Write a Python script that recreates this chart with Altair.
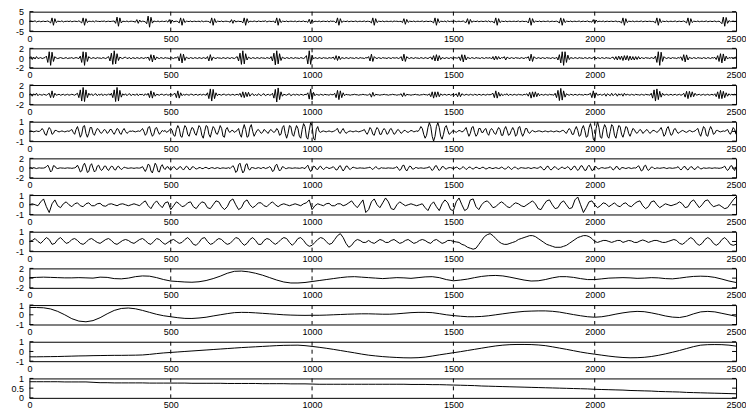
import altair as alt
import pandas as pd

X_MAX = 2500
X_TICKS = [0, 500, 1000, 1500, 2000, 2500]
GRID_X = [500, 1000, 1500, 2000]
STEP = [5, 5, 5, 5, 5, 10, 10, 25, 25, 25, 25]
Y_DOMAIN = [(-5, 5), (-2, 2), (-2, 2), (-1, 1), (-2, 2), (-1, 1), (-1, 1), (-2, 2), (-1, 1), (-1, 1), (0, 1)]
Y_TICKS = [[-5, 0, 5], [-2, 0, 2], [-2, 0, 2], [-1, 0, 1], [-2, 0, 2], [-1, 0, 1], [-1, 0, 1],
           [-2, 0, 2], [-1, 0, 1], [-1, 0, 1], [0, 0.5, 1]]

P1 = [
    0, 0.2, -0.1, 0, 0.3, -0.3, 0, 0.1, -0.2, 0, 0.1, -0.1, 0, 0.2, -0.2, -0.8, 1.8, -2.0, 1.4, -0.6,
    0.1, 0, -0.1, 0.3, -0.3, 0, 0, 0.1, -0.1, 0.2, -0.2, 0, 0.1, 0, -0.1, 0.3, -0.2, -0.8, 1.8, -2.0,
    1.4, -0.6, 0.1, 0, -0.1, 0.2, -0.3, 0.3, 0, 0, -0.1, 0.1, 0, 0.2, -0.2, 0, 0.1, -0.1, 0, 0.1,
    0.2, -1.0, 2.2, -2.5, 1.8, -0.8, 0.1, 0, -0.1, 0.2, -0.2, 0, 0.1, 0, -0.1, -0.4, 0.9, -1.0, 0.7, -0.3,
    0.1, 0, -0.2, -1.2, 2.7, -3.0, 2.1, -0.9, 0.2, 0, -0.1, 0.2, -0.2, 0, 0.1, -0.1, 0, 0.2, -0.4, 0.9,
    -1.0, 0.7, -0.3, 0, 0.1, -0.1, -0.8, 1.8, -2.0, 1.4, -0.6, 0.1, 0, -0.1, 0.2, -0.2, 0, 0.1, -0.1, 0,
    0.1, -0.2, 0.3, -0.2, 0, 0.1, 0, -0.1, -0.8, 1.8, -2.0, 1.4, -0.6, 0.1, 0, -0.1, 0.2, -0.2, 0, 0.1,
    0, -0.1, -0.4, 0.9, -1.0, 0.7, -0.3, 0, 0.1, -0.1, 0, -0.8, 1.8, -2.0, 1.4, -0.6, 0.1, 0, -0.1, 0.2,
    0, -0.2, 0.2, 0, -0.1, 0.1, 0, 0.3, -0.3, 0, 0.1, -0.1, 0, 0.1, -0.8, 1.8, -2.0, 1.4, -0.6, 0.1,
    0, -0.1, 0.2, -0.2, 0, 0.1, 0, -0.1, 0.2, -0.2, 0, 0.1, -0.1, 0, 0.2, -0.2, 0, -0.5, 1.1, -1.2,
    0.8, -0.4, 0.1, 0, -0.1, 0.2, -0.2, 0, 0.1, 0, -0.1, 0.2, -0.3, 0.2, 0, 0.1, -0.1, -0.8, 1.8, -2.0,
    1.4, -0.6, 0.1, 0, -0.1, 0.2, -0.2, 0, 0.1, -0.1, 0, 0.2, -0.2, 0, 0.1, -0.1, 0, 0.2, -0.2, 0.1,
    0, -0.1, -0.8, 1.8, -2.0, 1.4, -0.6, 0.1, 0, -0.1, 0.2, -0.2, 0, 0.1, -0.1, 0, 0.1, -0.2, 0.2, 0,
    0.1, -0.1, 0, 0, -0.6, 1.4, -1.5, 1.0, -0.5, 0.1, 0, -0.1, 0.2, -0.2, 0, 0.1, -0.1, 0, 0.2, -0.2,
    0, 0.1, -0.1, 0, 0.1, -0.2, -0.8, 1.8, -2.0, 1.4, -0.6, 0.1, 0, -0.1, 0.2, -0.3, 0.3, -0.1, 0, 0.1,
    -0.1, 0.2, -0.2, 0, 0.1, -0.1, 0, 0.2, -0.3, -0.6, 1.4, -1.5, 1.0, -0.5, 0.1, 0, -0.1, 0.2, -0.2, 0,
    0.1, -0.1, 0, 0.2, -0.2, 0.3, -0.3, 0, -0.2, -0.8, 1.8, -2.0, 1.4, -0.6, 0.1, 0, -0.1, 0.2, -0.2, 0,
    0.1, -0.1, 0, 0.1, -0.1, 0, 0.2, -0.2, 0, 0.1, -0.1, 0, 0, -0.8, 1.8, -2.0, 1.4, -0.6, 0.1, 0,
    -0.1, 0.2, -0.2, 0, 0.1, -0.1, 0, 0.2, -0.2, 0, 0.1, -0.1, 0, 0.1, -0.2, -0.8, 1.8, -2.0, 1.4, -0.6,
    0.1, 0, -0.1, 0.2, -0.2, 0, 0.1, -0.1, 0, 0.2, -0.2, 0, 0.1, -0.1, 0, 0.2, -0.2, -0.1, -0.4, 0.9,
    -1.0, 0.7, -0.3, 0.1, 0, -0.1, 0.2, -0.2, 0, 0.1, -0.1, 0, 0.1, -0.1, 0, 0.2, -0.2, 0, -0.2, -0.8,
    1.8, -2.0, 1.4, -0.6, 0.1, 0, -0.1, 0.2, -0.2, 0, 0.1, -0.1, 0, 0.2, -0.2, 0, 0.1, -0.1, 0, 0.1,
    -0.1, 0, -0.2, -0.8, 1.8, -2.0, 1.4, -0.6, 0.1, 0, -0.1, 0.2, -0.2, 0, 0.1, -0.1, 0, 0.2, -0.2, 0,
    0.1, -0.1, 0, 0.2, -0.2, -0.8, 1.8, -2.0, 1.4, -0.6, 0.1, 0, -0.1, 0.2, -0.2, 0, 0.1, -0.1, 0, 0.2,
    -0.2, 0, 0.1, -0.1, 0, 0.2, -0.2, 0, 0.1, -0.4, -1.2, 2.2, -2.5, 2.0, -1.0, 0.4, -0.1, 0, 0.1, -0.1,
    0,
]

P2 = [
    0, 0.3, -0.3, 0.2, -0.2, 0.3, -0.1, 0, 0.1, -0.1, 0, 0.1, 0.4, -0.9, 1.3, -1.5, 1.2, -0.7, 0.3, 0,
    -0.1, 0, 0.1, 0, -0.1, 0, 0.1, -0.1, 0, 0, 0.1, -0.1, 0, 0.1, 0, -0.1, 0.4, -0.9, 1.3, -1.5,
    1.2, -0.7, 0.3, 0, -0.1, 0.1, 0, -0.1, 0.1, 0, 0, -0.1, 0.1, 0, -0.1, 0.1, 0.3, -0.6, 1.0, -1.3,
    1.5, -1.2, 0.9, -0.5, 0.2, 0, -0.1, 0.1, 0.2, -0.1, 0, 0.1, -0.2, 0.1, 0, -0.1, 0.1, 0, -0.1, 0.1,
    0, -0.1, 0.1, 0, 0.2, -0.5, 0.7, -0.8, 0.6, -0.4, 0.2, 0, -0.1, 0.1, 0, -0.1, 0.1, 0, 0, -0.1,
    0.1, 0, -0.1, 0.1, 0, 0.3, -0.6, 0.9, -1.0, 0.8, -0.5, 0.2, 0, -0.1, 0.1, 0, -0.1, 0.1, 0, -0.1,
    0.1, 0, -0.1, 0.1, 0, -0.1, 0.3, -0.6, 0.7, -0.5, 0.2, 0, -0.1, 0.1, 0, 0, -0.1, 0.1, 0, -0.1,
    0.1, 0, -0.1, 0.1, 0, -0.1, 0.1, 0.3, -0.6, 1.0, -1.3, 1.5, -1.2, 0.9, -0.4, 0.2, 0, -0.1, 0.1, 0,
    -0.1, 0.1, 0, -0.1, 0.1, 0, 0, -0.1, 0.1, 0, -0.1, 0.3, -0.6, 1.0, -1.4, 1.5, -1.2, 0.9, -0.5, 0.2,
    0, -0.1, 0.1, 0, -0.1, 0.1, 0, -0.1, 0.1, 0, 0, -0.1, 0.1, 0, -0.1, 0.1, 0.5, -1.2, 1.5, -1.3,
    0.6, -0.2, 0.1, 0, -0.1, 0.1, 0, -0.1, 0.1, 0, 0, -0.1, 0.1, 0, 0, 0.2, -0.3, 0.5, -0.5, 0.4,
    -0.3, 0.1, 0, -0.1, 0.1, 0, -0.1, 0.1, 0, 0, -0.1, 0.1, 0, -0.1, 0.1, 0, 0, -0.1, 0.1, 0,
    0.3, -0.6, 0.8, -0.7, 0.3, 0, -0.1, 0.1, 0, -0.1, 0.1, 0, 0, -0.1, 0.1, 0, -0.1, 0.1, 0, 0,
    0.1, -0.1, 0, 0.3, -0.6, 0.8, -0.7, 0.3, 0, -0.1, 0.1, 0, -0.1, 0.1, 0, 0, -0.1, 0.1, 0, -0.1,
    0.1, 0, -0.1, 0.1, 0.2, -0.3, 0.5, -0.6, 0.7, -0.6, 0.5, -0.3, 0.1, 0, -0.1, 0.1, 0, -0.1, 0.1, 0,
    -0.1, 0.1, 0, 0, 0.25, -0.5, 0.7, -0.8, 0.65, -0.4, 0.15, 0, -0.1, 0.1, 0, -0.1, 0.1, 0, 0, -0.1,
    0.1, 0, -0.1, 0.1, 0, 0, 0.1, -0.2, 0.3, -0.4, 0.4, -0.3, 0.3, -0.2, 0.1, 0, 0.3, -0.4, 0.2, 0,
    -0.1, 0.1, 0, -0.1, 0.1, 0, 0, -0.1, 0.1, 0, -0.1, 0.1, 0, 0.3, -0.6, 0.8, -0.7, 0.3, 0, -0.1,
    0.1, 0, -0.1, 0.1, 0, -0.1, 0.1, 0, 0, -0.1, 0.1, 0, -0.1, 0.2, -0.4, 0.7, -1.0, 1.3, -1.5, 1.3,
    -0.9, 0.6, -0.3, 0.1, 0, -0.1, 0.1, 0, -0.1, 0.1, 0, 0, -0.1, 0.1, 0, -0.1, 0.1, 0, -0.1, 0.1,
    0.2, -0.2, 0.1, 0, -0.1, 0.1, 0, -0.1, 0.1, 0, 0, -0.1, 0.1, 0.2, -0.3, 0.3, -0.4, 0.4, -0.3, 0.4,
    -0.5, 0.5, -0.4, 0.5, -0.5, 0.4, -0.4, 0.3, -0.4, 0.3, -0.3, 0.3, -0.2, 0.1, 0, -0.1, 0.1, 0, 0, -0.1,
    0.1, 0, -0.1, 0.4, -0.9, 1.3, -1.5, 1.2, -0.7, 0.3, 0, -0.1, 0.1, 0, -0.1, 0.1, 0, 0, -0.1, 0.1,
    0, 0.25, -0.5, 0.7, -0.8, 0.65, -0.4, 0.15, 0, -0.1, 0.1, 0, -0.1, 0.1, 0, 0, -0.1, 0.1, 0, -0.1,
    0.1, 0, -0.1, 0.1, 0, 0.15, -0.3, 0.5, -0.7, 0.9, -1.0, 0.85, -0.6, 0.4, -0.2, 0.1, 0, 0.1, -0.1, 0.1,
    0.2,
]

P3 = [
    0, 0.2, -0.3, 0.2, -0.1, 0.3, -0.2, 0.1, 0, -0.1, 0.1, 0, -0.1, 0.1, 0.3, -0.6, 0.8, -0.6, 0.3, -0.1,
    0, 0.1, -0.1, 0, 0.1, -0.1, 0, 0.1, -0.1, 0, 0.1, 0, -0.1, 0.1, 0.3, -0.6, 1.0, -1.3, 1.5, -1.4,
    1.0, -0.6, 0.3, -0.1, 0.2, -0.2, 0.1, 0.2, -0.2, 0.1, -0.1, 0.2, -0.2, 0.1, 0, -0.1, 0.2, -0.1, 0.3, -0.6,
    1.0, -1.4, 1.5, -1.3, 0.9, -0.5, 0.2, -0.1, 0.2, -0.2, 0.1, 0.2, -0.2, 0.1, 0, -0.1, 0.2, -0.2, 0.1, 0,
    0.1, -0.2, 0.2, -0.1, 0.3, -0.6, 0.8, -0.7, 0.5, -0.3, 0.1, 0, -0.1, 0.1, 0.1, -0.1, 0, 0.1, -0.1, 0,
    0.1, -0.1, 0.1, 0.3, -0.6, 0.8, -0.7, 0.4, -0.2, 0.1, -0.1, 0.1, 0, -0.1, 0.1, 0.1, -0.1, 0, 0.1, -0.1,
    0, 0.1, -0.1, 0.1, 0, -0.1, 0.4, -0.8, 1.2, -1.3, 1.1, -0.8, 0.4, -0.2, 0.1, 0, -0.1, 0.1, 0.1, -0.1,
    0, 0.1, -0.1, 0, 0.1, -0.1, 0, 0.1, -0.1, 0.3, -0.5, 0.6, -0.6, 0.5, -0.4, 0.5, -0.3, 0.1, 0.2, -0.2,
    0.1, -0.2, 0.2, 0, -0.2, 0.1, 0.2, -0.2, 0, 0.1, -0.1, 0, 0.3, -0.7, 1.1, -1.5, 1.4, -1.0, 0.6, -0.3,
    0.1, 0, -0.1, 0.1, 0.2, -0.2, 0, 0.1, -0.1, 0.1, 0, -0.1, 0.1, 0, -0.1, 0.1, 0, 0.4, -0.9, 1.2,
    -1.0, 0.5, -0.2, 0.1, 0, -0.1, 0.1, 0, -0.1, 0.1, 0, 0, -0.1, 0.1, 0, 0, 0.3, -0.6, 0.9, -1.0,
    0.8, -0.6, 0.4, -0.2, 0.1, 0, 0, -0.1, 0, 0, 0.1, 0, 0, -0.1, 0, 0, 0.1, 0, 0, -0.1,
    0, 0.2, -0.5, 0.5, -0.3, 0.1, 0, 0, -0.1, 0, 0, 0.1, 0, 0, -0.1, 0, 0, 0.1, 0, 0,
    -0.1, 0, 0, 0.2, -0.4, 0.4, -0.3, 0.1, 0, 0, -0.1, 0, 0, 0.1, 0, 0, -0.1, 0, 0, 0.1,
    0, 0, -0.1, 0.2, -0.4, 0.6, -0.7, 0.6, -0.5, 0.6, -0.4, 0.2, -0.1, 0, 0.1, -0.1, 0, 0.1, -0.1, 0,
    0.1, -0.1, 0.2, -0.4, 0.5, -0.4, 0.2, 0, -0.1, 0.1, 0, -0.1, 0.1, 0, -0.1, 0.1, 0, -0.1, 0.1, 0,
    -0.1, 0.1, 0, -0.1, 0.1, 0, 0, 0.1, 0.3, -0.6, 0.8, -0.7, 0.5, -0.3, 0.2, -0.2, 0.1, 0, 0.2, -0.2,
    0.1, 0, -0.1, 0.1, 0, -0.1, 0.1, 0, 0, -0.1, 0.1, 0, 0.2, -0.3, 0.5, -0.7, 0.6, -0.5, 0.6, -0.4,
    0.3, -0.2, 0.1, 0, -0.1, 0.1, 0, -0.1, 0.1, 0, 0, -0.1, 0.3, -0.6, 0.9, -1.2, 1.3, -1.1, 0.8, -0.5,
    0.2, 0, -0.1, 0.1, 0, -0.1, 0.1, 0, -0.1, 0.1, 0, 0, -0.1, 0.1, 0, 0, 0.1, 0.3, -0.6, 0.8,
    -0.7, 0.4, -0.1, 0, 0.1, -0.1, 0, 0.2, -0.3, 0.2, 0, -0.2, 0.3, -0.2, 0.1, 0.2, -0.3, 0.2, -0.1, 0.2,
    -0.3, 0.3, -0.1, 0.1, 0, -0.1, 0.1, 0, -0.1, 0.1, 0, 0, -0.1, 0.1, 0, -0.1, 0.1, 0, 0, -0.1,
    0.3, -0.7, 1.0, -1.3, 1.2, -1.0, 0.7, -0.5, 0.3, -0.1, 0, 0.1, -0.1, 0, 0.1, -0.1, 0, 0.1, -0.1, 0,
    0.1, -0.1, 0, 0.3, -0.5, 0.7, -0.8, 0.7, -0.5, 0.6, -0.4, 0.3, -0.1, 0, 0.1, -0.1, 0, 0.1, -0.1, 0,
    0.1, -0.1, 0, 0.1, -0.1, 0.2, -0.4, 0.6, -0.8, 0.9, -0.8, 0.7, -0.6, 0.4, -0.3, 0.2, -0.1, 0.1, 0, 0.1,
    0,
]

P4 = [
    0, 0.05, 0, -0.05, 0, 0.05, 0, 0,
    0.1, 0.3, 0.1, -0.3, -0.4, 0.1, 0.4, 0.2, -0.3, -0.2, 0.1, 0.1, 0,
    -0.05, 0, 0.05, 0, -0.05, 0, 0.05, 0,
    0.1, 0.2, -0.1, -0.3, 0.2, 0.5, 0, -0.6, -0.3, 0.5, 0.6, -0.2, -0.6, -0.2, 0.4, 0.4, -0.2, -0.4, 0, 0.3, 0.2, -0.1,
    -0.2, 0, 0.2, 0.1, -0.2, -0.1, 0.2, 0.2, -0.1, -0.3, 0, 0.3, 0.2, -0.2, -0.3, 0.1, 0.3, 0, -0.2, -0.1, 0.05,
    0, 0.05, 0, -0.05, 0, 0.05, 0,
    0.1, 0.3, 0, -0.4, -0.2, 0.4, 0.5, -0.1, -0.5, -0.3, 0.3, 0.4, 0, -0.3, -0.1, 0.1, 0,
    0.1, -0.1, 0, 0.1,
    0.3, 0.1, -0.4, -0.5, 0.2, 0.6, 0.3, -0.5, -0.6, 0.1, 0.6, 0.4, -0.3, -0.5, 0, 0.4, 0.3, -0.2, -0.4, 0.1,
    0.6, 0.4, -0.4, -0.7, 0, 0.6,
    0.5, -0.3, -0.6, 0, 0.5, 0.3, -0.2, -0.3, 0.1, 0.6, 0.3, -0.5, -0.6, 0.2, 0.4, 0,
    -0.1, 0.1, 0.1, -0.1, 0, 0.1,
    0.3, -0.3, -0.6, 0.2, 0.7, 0.2, -0.6, -0.5, 0.4, 0.7, 0, -0.5, -0.2, 0.1,
    0.2, 0, -0.2, -0.1, 0.2, 0.1, -0.1, -0.2, 0.1, 0.2, 0, -0.1, 0,
    0.3, 0.1, -0.4, -0.3, 0.4, 0.6, -0.2, -0.7, -0.2, 0.6, 0.5, -0.3, -0.5, 0.1, 0.6, 0.3, -0.5, -0.7, 0.2, 0.8,
    0.5, -0.6, -0.8, 0.1,
    0.9, 0.6, -0.7, -0.9, 0.2, 0.5,
    0, -0.1, 0, 0.05, 0, -0.05, 0, 0.05, 0, -0.05, 0, 0.05,
    0.2, 0.3, -0.1, -0.2, 0.1, 0.3, 0, -0.2, -0.1, 0,
    0.05, 0, -0.05, 0, 0.05, 0, -0.05, 0, 0.05,
    0.1, 0.2, -0.1, -0.3, 0, 0.4, 0.2, -0.3, -0.4, 0.1, 0.4, 0.2, -0.3, -0.3, 0.1,
    0.3, 0.1, -0.3, -0.2, 0.2, 0.3, 0, -0.3, -0.2, 0.1, 0.2, 0, -0.2, -0.1, 0.1,
    0.1, -0.05, -0.1, 0, 0.1, 0.05, -0.05, 0, 0.05, 0,
    0.2, 0.5, 0.3, -0.3, -0.7, -0.4, 0.4, 0.9, 0.5, -0.5, -1.0, -0.5, 0.5, 0.9, 0.4, -0.5, -0.8, -0.3, 0.4, 0.6,
    0.1, -0.3, -0.2, 0,
    0.1, 0, -0.1, 0, 0.1, 0.05, -0.05, 0,
    0.2, 0.4, -0.1, -0.5, -0.2, 0.4, 0.5, -0.1, -0.5, -0.3, 0.3, 0.3, -0.1, -0.1,
    0.2, 0.3, -0.2, -0.4, 0.1, 0.3, 0.1, -0.2, -0.3, 0.1, 0.4, 0.2, -0.4, -0.4, 0.2, 0.5, 0.1, -0.4, -0.3, 0.1,
    0.4, 0.1, -0.5, -0.3, 0.4, 0.5, -0.1, -0.5, -0.2, 0.3, 0.3, -0.1, -0.2, 0, 0.1, 0,
    -0.05, 0, 0.05, 0.05, 0, -0.05, 0, 0.05, 0, -0.05, 0, 0.05, 0, -0.05, 0, 0.05, 0, -0.05, 0,
    0.1, 0.1, -0.1, -0.2, 0.1, 0.3, 0.1, -0.3, -0.3, 0.2, 0.5, 0.1, -0.5, -0.4, 0.3, 0.6, 0.1, -0.6, -0.5, 0.4,
    0.8, 0.2, -0.8,
    -1.0, 0.3, 1.0, 0.4,
    -0.6, -0.7, 0.2, 0.7, 0.4, -0.5, -0.7, 0, 0.7, 0.5, -0.4, -0.7, 0, 0.6, 0.5, -0.3, -0.6, -0.1, 0.5, 0.4,
    -0.2, -0.5, -0.1, 0.3, 0.2, -0.1,
    -0.2, 0, 0.2, 0.1, -0.2, -0.1, 0.1, 0.2, 0, -0.2, -0.1, 0.1, 0.1, 0, -0.1, 0,
    0.2, 0.4, 0, -0.5, -0.3, 0.3, 0.5, 0, -0.4, -0.3, 0.2, 0.3, 0, -0.2, -0.1, 0,
    0.1, 0.05, -0.05, -0.1, 0, 0.1, 0.05, -0.05, 0, 0.05,
    0.2, 0.3, -0.2, -0.5, 0, 0.5, 0.3, -0.4, -0.5, 0.1, 0.5, 0.2, -0.3, -0.2, 0.1, 0.1, 0,
    -0.05, 0, 0.05, 0, 0.1, 0.2, -0.1, -0.3,
    0, 0.4, 0.2, -0.3,
]

P5 = [
    0, 0.1, -0.1, 0.1, 0, -0.1, 0, 0.05, 0, 0, 0, 0.1, 0.3, 0.6, 0, -0.8, -0.5, 0.5, 0.4, 0,
    -0.1, 0, 0.05, 0, 0, -0.05, 0, 0.05, 0, 0, -0.05, 0, 0.05, 0.2, 0.6, 0, -0.8, -0.6, 0.5, 1.0,
    0.2, -0.9, -0.7, 0.5, 0.9, 0, -0.8, -0.5, 0.4, 0.6, -0.1, -0.5, -0.2, 0.4, 0.4, -0.2, -0.5, 0, 0.4, 0.3,
    -0.3, -0.4, 0.2, 0.4, 0, -0.3, -0.1, 0.2, 0.1, 0, -0.05, 0, 0.05, 0, -0.05, 0, 0.05, 0, 0, 0.1,
    0.3, -0.2, -0.7, -0.1, 0.8, 0.6, -0.6, -1.0, 0, 1.0, 0.5, -0.7, -0.8, 0.3, 0.7, 0, -0.3, 0.2, 0.3, -0.2,
    -0.4, 0, 0.3, 0.1, -0.3, -0.2, 0.2, 0.3, -0.1, -0.4, 0, 0.4, 0.2, -0.3, -0.3, 0.2, 0.3, 0, -0.2, -0.1,
    0.1, 0.1, -0.1, -0.1, 0.1, 0.15, 0, -0.15, 0, 0.1, 0.05, -0.1, 0, 0.1, 0, -0.1, 0, 0.05, 0, -0.05,
    0, 0.1, -0.1, 0.2, 0.5, 0, -0.9, -0.6, 0.7, 1.0, -0.1, -1.0, -0.6, 0.7, 0.9, -0.2, -0.4, 0.1, 0.1, 0,
    -0.1, 0, 0.1, 0, -0.1, 0.1, 0.1, -0.1, 0, 0.1, 0.3, 0, -0.7, -0.5, 0.5, 0.8, 0, -0.6, -0.3, 0.3,
    0.2, -0.1, -0.1, 0.05, 0.05, 0, -0.05, 0, 0.05, 0, 0, -0.05, 0, 0.1, 0, -0.1, 0.3, 0.6, -0.2, -0.7,
    -0.3, 0.4, 0.3, -0.2, -0.3, 0.2, 0.4, 0, -0.3, -0.1, 0.2, 0.1, -0.1, 0, 0.1, 0.3, 0, -0.4, -0.3, 0.3,
    0.5, -0.1, -0.6, -0.2, 0.4, 0.4, -0.1, -0.3, 0, 0.2, 0.1, 0, -0.05, 0, 0.05, 0, 0, -0.05, 0, 0.05,
    0.1, 0.2, -0.1, -0.3, 0, 0.3, 0.1, -0.2, -0.1, 0.1, 0, 0, -0.05, 0, 0.05, 0, 0, -0.05, 0, 0.1,
    0.3, -0.1, -0.5, -0.2, 0.5, 0.6, -0.2, -0.6, -0.1, 0.4, 0.3, -0.2, -0.2, 0.1, 0.1, -0.05, 0, 0.05, 0, -0.05,
    0, 0.05, 0.1, 0.3, -0.1, -0.5, -0.2, 0.4, 0.5, -0.1, -0.5, -0.2, 0.3, 0.3, -0.1, -0.2, 0, 0.1, 0.1, 0,
    -0.1, 0, 0.2, 0.1, -0.2, -0.2, 0.1, 0.3, 0, -0.3, -0.1, 0.2, 0.2, -0.1, -0.2, 0, 0.2, 0.1, -0.1, -0.1,
    0.1, 0.2, 0, -0.2, -0.1, 0.1, 0.1, -0.05, -0.1, 0, 0.1, 0, -0.1, 0, 0.2, 0.1, -0.2, -0.2, 0.1, 0.3,
    0, -0.3, -0.1, 0.2, 0.2, -0.1, -0.2, 0, 0.1, 0.05, 0, -0.05, 0, 0.1, 0, -0.1, 0, 0.1, 0.05, -0.05,
    0, 0.2, 0.3, -0.1, -0.4, -0.2, 0.3, 0.4, -0.1, -0.4, -0.2, 0.2, 0.3, 0, -0.3, -0.2, 0.1, 0.2, 0, -0.1,
    0.1, 0.3, 0, -0.4, -0.2, 0.3, 0.4, -0.1, -0.5, -0.2, 0.4, 0.5, 0, -0.5, -0.4, 0.3, 0.6, 0.1, -0.5, -0.4,
    0.3, 0.3, -0.1, -0.2, 0, 0.1, 0.05, -0.05, 0, 0.05, 0.1, 0.3, 0, -0.4, -0.2, 0.3, 0.3, -0.2, -0.3, 0.1,
    0.1, 0, -0.1, 0, 0.1, 0, -0.1, 0, 0.05, 0, 0.2, 0.5, 0, -0.6, -0.4, 0.4, 0.6, -0.1, -0.5, -0.2,
    0.2, 0.2, -0.1, -0.1, 0.05, 0, -0.05, 0, 0.05, 0.1, 0, -0.1, 0, 0.05, 0, -0.05, 0, 0.05, 0.1, 0.3,
    -0.1, -0.4, -0.1, 0.3, 0.3, -0.2, -0.4, 0, 0.3, 0.2, -0.2, -0.3, 0.1, 0.3, 0.1, -0.2, -0.1, 0.05, 0, -0.05,
    0, 0.05, 0, -0.05, 0, 0.05, 0, 0, -0.05, 0, 0.05, 0.2, 0.4, -0.1, -0.5, -0.2, 0.4, 0.5, -0.1, -0.5,
    0.3,
]

P6 = [
    0, 0.1, 0, -0.1, 0.3, 0.6, -0.2, -0.8, 0.1, 0.5,
    -0.1, -0.3, 0.1, 0.3, 0, -0.2, 0.1, 0.2, -0.1, -0.2,
    0.1, 0.2, -0.1, -0.1, 0.1, 0.15, -0.1, -0.15, 0.05, 0.1,
    0, -0.1, 0.05, 0.1, 0, -0.1, 0, 0.1, 0, -0.1,
    0.2, 0.4, -0.1, -0.4, 0.1, 0.4, 0, -0.3, 0.2, 0.3,
    -0.5, -0.1, 0.3, 0.1, -0.2, -0.1, 0.2, 0.3, -0.2, -0.4,
    0, 0.3, 0.2, -0.3, -0.4, 0, 0.4, 0.3, -0.2, -0.5,
    -0.2, 0.4, 0.6, 0, -0.5, -0.3, 0.3, 0.5, 0, -0.3,
    -0.1, 0.2, 0.2, -0.1, -0.2, 0.1, 0.3, 0, -0.2, 0,
    0.1, 0, -0.1, 0, 0.1, 0, -0.1, 0.1, 0.2, 0.5,
    -0.5, -0.1, 0.1, 0, -0.1, 0.1, 0.15, -0.1, -0.1, 0.1,
    0.1, -0.1, 0, 0.2, 0.4, 0, -0.3, 0.1, 0.5, -0.8,
    -0.5, 0.3, 0.6, 0, -0.3, 0.2, 0.7, 0.3, -0.4, -0.5,
    0, 0.3, 0.1, -0.1, 0, 0.1, 0, -0.1, 0, 0.1,
    -0.3, -0.6, 0, 0.3, -0.2, -0.6, 0.1, 0.5, 0.2, -0.5,
    -0.6, 0.3, 0.7, 0, -0.6, -0.4, 0.5, 0.6, -0.2, -0.5,
    0, 0.3, 0.4, 0.1, -0.3, -0.2, 0.1, 0.3, 0.1, -0.2,
    -0.3, 0, 0.2, 0.1, -0.1, -0.2, 0, 0.2, 0.4, 0.1,
    -0.4, -0.5, 0, 0.4, 0.5, 0, -0.4, -0.3, 0.2, 0.4,
    0, -0.4, -0.3, 0.5, 0.8, 0, -0.8, -0.3, 0.3, 0.4,
    0, -0.3, -0.1, 0.2, 0.1, -0.2, 0, 0.2, -0.1, -0.2,
    0.1, 0.2, -0.1, -0.2, 0.1, 0.3, 0.4, -0.1, -0.4, -0.2,
    0.3, 0.4, 0, -0.3, -0.1, 0.1, 0, -0.1, 0, 0.1,
    0.3, 0.1, -0.3, -0.2, 0.3, 0.5, 0.1, -0.3, 0, 0.4,
    0.5, 0.1, -0.2, -0.1, 0, -0.2, -0.4, -0.3, 0.1, 0.5,
    0.8,
]

P7 = [
    0, 0.1, 0.3, 0, -0.2, 0.1, 0.4, 0.2, -0.3, -0.2,
    0.2, 0.4, 0.1, -0.2, -0.1, 0.2, 0.3, 0.1, -0.2, -0.3,
    -0.1, 0.2, 0.3, 0.1, -0.1, -0.2, 0, 0.2, 0.3, 0.1,
    -0.2, -0.3, -0.1, 0.1, 0.2, 0.1, -0.1, -0.2, 0, 0.2,
    0.3, 0.1, -0.2, -0.3, 0, 0.3, 0.2, -0.1, -0.3, -0.1,
    0.1, 0.2, 0, -0.2, -0.1, 0.2, 0.4, 0.1, -0.3, -0.4,
    -0.1, 0.3, 0.4, 0, -0.3, -0.2, 0.1, 0.3, 0.2, -0.1,
    -0.3, -0.2, 0.1, 0.4, 0.3, -0.1, -0.4, -0.2, 0.2, 0.4,
    0.1, -0.3, -0.3, 0.1, 0.3, 0.2, -0.1, -0.3, -0.1, 0.2,
    0.4, 0.3, -0.1, -0.4, -0.1, 0.3, 0.4, 0.1, -0.3, -0.5,
    -0.4, -0.1, 0.2, 0.4, 0.3, 0, -0.3, -0.2, 0.2, 0.6,
    0.8, 0.4, -0.2, -0.6, -0.4, 0, 0.2, 0.1, -0.1, -0.1,
    0.1, -0.1, -0.2, 0, 0.2, 0.1, -0.1, -0.1, 0.1, 0.2,
    0, -0.2, -0.1, 0.1, 0.2, 0, -0.2, -0.1, 0.1, 0.2,
    0.1, -0.1, -0.2, 0.1, 0.2, 0, -0.2, -0.1, 0.1, 0.1,
    0, -0.05, -0.1, -0.3, -0.4, -0.6, -0.7, -0.8, -0.7, -0.3,
    0.1, 0.5, 0.7, 0.8, 0.6, 0.3, 0, -0.2, -0.3, -0.3,
    -0.2, -0.1, 0, 0.2, 0.3, 0.4, 0.5, 0.6, 0.6, 0.5,
    0.3, 0.1, -0.1, -0.3, -0.4, -0.5, -0.6, -0.6, -0.6, -0.5,
    -0.4, -0.2, 0, 0.2, 0.4, 0.5, 0.6, 0.6, 0.5, 0.3,
    0, -0.1, 0, 0.1, 0.1, 0, -0.1, 0, 0.1, 0.1,
    -0.1, 0, 0.1, 0.05, -0.1, -0.1, 0.05, 0.15, 0.05, -0.1,
    0, 0.1, 0.1, 0, -0.1, -0.1, 0, 0.1, 0.2, 0.1,
    -0.2, -0.3, -0.1, 0.2, 0.4, 0.2, -0.2, -0.4, -0.2, 0.2,
    0.4, 0.2, -0.2, -0.4, -0.2, 0.2, 0.4, 0.1, -0.3, -0.4,
    -0.3,
]

P8 = [
    0.1, 0.15, 0.2, 0.15, 0.1, 0.05, 0.05, 0.1, 0.05, 0,
    0.2, 0.15, -0.1, -0.15, 0, 0.3, 0.45, 0.4, 0.1, -0.3,
    -0.6, -0.7, -0.8, -0.85, -0.75, -0.5, -0.1, 0.4, 1.0, 1.4,
    1.45, 1.3, 1.0, 0.6, 0.1, -0.4, -0.8, -1.0, -1.0, -0.9,
    -0.7, -0.5, -0.3, -0.1, 0.1, 0.25, 0.3, 0.2, 0.1, 0,
    -0.1, 0, 0.1, 0.05, -0.05, 0.1, 0.25, 0.3, 0.1, -0.3,
    -0.55, -0.4, -0.2, 0.1, 0.35, 0.5, 0.55, 0.45, 0.2, -0.1,
    -0.4, -0.6, -0.55, -0.3, 0.05, 0.3, 0.3, 0.15, -0.1, -0.3,
    -0.3, -0.15, 0, 0.05, 0.1, 0.05, -0.05, 0, 0.1, 0.05,
    -0.1, -0.15, 0, 0.2, 0.35, 0.4, 0.35, 0.15, -0.2, -0.6,
    -0.9,
]

P9 = [
    0.75, 0.75, 0.72, 0.6, 0.35, 0.0, -0.4, -0.65, -0.72, -0.6,
    -0.3, 0.1, 0.45, 0.65, 0.7, 0.62, 0.45, 0.25, 0.05, -0.1,
    -0.2, -0.3, -0.37, -0.38, -0.33, -0.25, -0.12, 0.0, 0.12, 0.22,
    0.25, 0.24, 0.2, 0.15, 0.1, 0.05, 0.0, -0.03, -0.05, -0.06,
    -0.05, -0.05, -0.03, 0.0, 0.03, 0.06, 0.08, 0.1, 0.1, 0.08,
    0.06, 0.06, 0.1, 0.16, 0.22, 0.25, 0.25, 0.22, 0.12, 0.0,
    -0.08, -0.15, -0.2, -0.2, -0.17, -0.1, 0.0, 0.1, 0.2, 0.28,
    0.35, 0.38, 0.4, 0.4, 0.36, 0.28, 0.15, 0.02, -0.1, -0.2,
    -0.25, -0.2, -0.08, 0.07, 0.2, 0.3, 0.35, 0.32, 0.2, 0.05,
    -0.12, -0.24, -0.28, -0.15, 0.1, 0.3, 0.35, 0.3, 0.15, 0.0,
    -0.15,
]

P10 = [
    -0.55, -0.55, -0.54, -0.53, -0.52, -0.5, -0.48, -0.46, -0.45, -0.43,
    -0.42, -0.41, -0.4, -0.4, -0.39, -0.38, -0.36, -0.3, -0.22, -0.15,
    -0.1, -0.05, 0.0, 0.05, 0.1, 0.15, 0.2, 0.25, 0.3, 0.35,
    0.4, 0.44, 0.48, 0.52, 0.56, 0.6, 0.63, 0.64, 0.65, 0.6,
    0.52, 0.43, 0.33, 0.22, 0.1, -0.02, -0.14, -0.27, -0.38, -0.46,
    -0.53, -0.58, -0.62, -0.65, -0.66, -0.64, -0.58, -0.47, -0.35, -0.24,
    -0.13, -0.02, 0.1, 0.22, 0.34, 0.46, 0.57, 0.65, 0.7, 0.72,
    0.72, 0.71, 0.67, 0.6, 0.48, 0.35, 0.22, 0.08, -0.06, -0.18,
    -0.28, -0.38, -0.48, -0.56, -0.62, -0.65, -0.64, -0.6, -0.52, -0.4,
    -0.25, -0.08, 0.1, 0.3, 0.5, 0.65, 0.7, 0.71, 0.7, 0.65,
    0.55,
]

P11 = [
    0.83, 0.83, 0.83, 0.83, 0.83, 0.82, 0.82, 0.82, 0.82, 0.8,
    0.78, 0.78, 0.77, 0.77, 0.77, 0.77, 0.77, 0.76, 0.76, 0.76,
    0.76, 0.76, 0.76, 0.75, 0.75, 0.75, 0.75, 0.75, 0.74, 0.74,
    0.74, 0.74, 0.74, 0.73, 0.73, 0.73, 0.73, 0.72, 0.72, 0.72,
    0.71, 0.7, 0.7, 0.7, 0.7, 0.7, 0.7, 0.7, 0.7, 0.7,
    0.7, 0.7, 0.7, 0.7, 0.69, 0.69, 0.69, 0.68, 0.68, 0.67,
    0.66, 0.65, 0.64, 0.63, 0.61, 0.6, 0.59, 0.58, 0.57, 0.56,
    0.55, 0.54, 0.53, 0.52, 0.51, 0.5, 0.49, 0.48, 0.47, 0.46,
    0.44, 0.43, 0.42, 0.41, 0.4, 0.38, 0.37, 0.36, 0.35, 0.33,
    0.32, 0.31, 0.3, 0.28, 0.27, 0.26, 0.25, 0.24, 0.23, 0.22,
    0.21,
]

SERIES = [P1, P2, P3, P4, P5, P6, P7, P8, P9, P10, P11]

# style constants
PANEL_W = 709
PANEL_H = 19.5
PANEL_GAP = 16.8
TICK_LEN = 14  # inward tick length, in x data units
FONT = "Liberation Sans"

panels = []
for k, vals in enumerate(SERIES):
    df = pd.DataFrame({"t": [i * STEP[k] for i in range(len(vals))], "v": vals})
    xsc = alt.Scale(domain=[0, X_MAX], nice=False, zero=False)
    ysc = alt.Scale(domain=list(Y_DOMAIN[k]), nice=False, zero=False)
    xax = alt.Axis(values=X_TICKS, title=None, labelExpr="'' + datum.value")
    yax = alt.Axis(values=Y_TICKS[k], title=None, labelExpr="'' + datum.value")

    line = alt.Chart(df).mark_line(color="black", strokeWidth=1, clip=True).encode(
        x=alt.X("t:Q", scale=xsc, axis=xax),
        y=alt.Y("v:Q", scale=ysc, axis=yax),
    )

    grid = alt.Chart(pd.DataFrame({"g": GRID_X})).mark_rule(
        color="black", strokeWidth=1, strokeDash=[4, 4]
    ).encode(x=alt.X("g:Q", scale=xsc, axis=xax))

    tick_rows = []
    for yv in Y_TICKS[k]:
        tick_rows.append({"a": 0, "b": TICK_LEN, "y": yv})
        tick_rows.append({"a": X_MAX - TICK_LEN, "b": X_MAX, "y": yv})
    ticks = alt.Chart(pd.DataFrame(tick_rows)).mark_rule(color="black", strokeWidth=1).encode(
        x=alt.X("a:Q", scale=xsc, axis=xax),
        x2="b:Q",
        y=alt.Y("y:Q", scale=ysc, axis=yax),
    )

    panels.append(alt.layer(line, grid, ticks).properties(width=PANEL_W, height=PANEL_H))

chart = alt.vconcat(*panels, spacing=PANEL_GAP, bounds="flush").properties(
    padding={"left": 1.5, "top": -2, "right": -1, "bottom": -2}
).configure_view(
    stroke="black", strokeWidth=1
).configure_axis(
    labelFont=FONT, labelFontSize=9, labelColor="black", ticks=False, tickSize=0,
    domain=False, grid=False, labelFlush=False, labelOverlap=False,
).configure_axisX(labelPadding=3).configure_axisY(labelPadding=6)

chart.save("out.html", embed_options={"renderer": "svg", "actions": False})
